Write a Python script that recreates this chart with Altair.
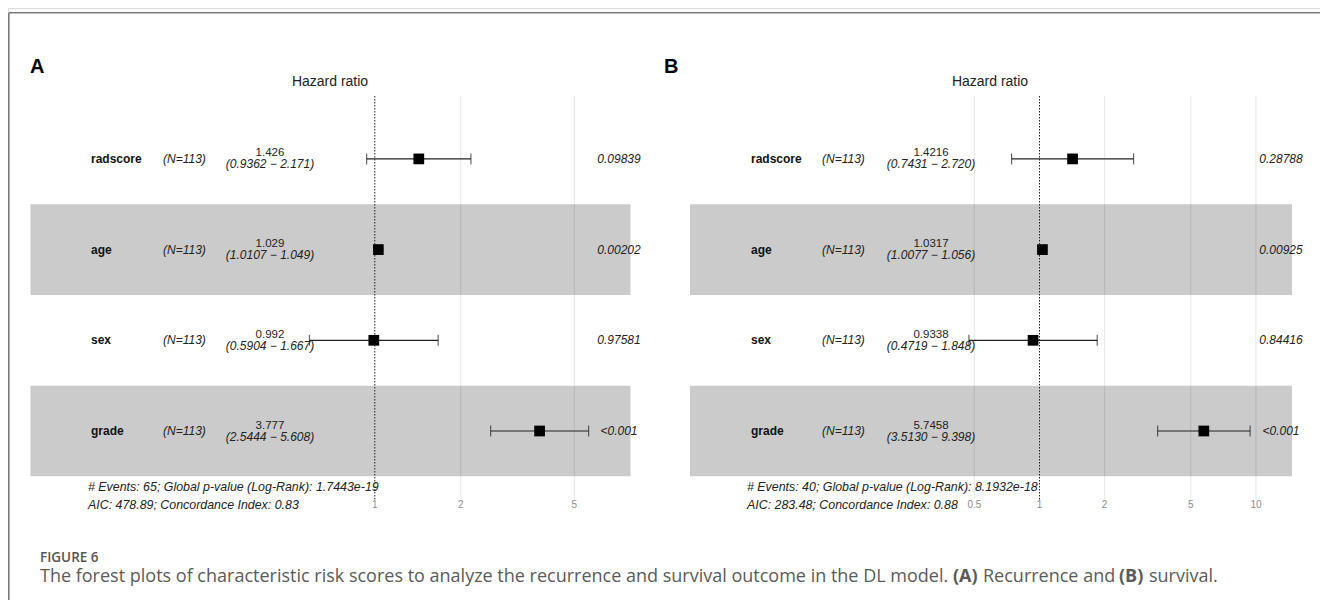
import altair as alt
import pandas as pd
import numpy as np

# ---------------- data ----------------
variables = ["radscore", "age", "sex", "grade"]
row_index = [4, 3, 2, 1]
n_labels = ["(N=113)", "(N=113)", "(N=113)", "(N=113)"]

hr_a = [1.426, 1.029, 0.992, 3.777]
lo_a = [0.9362, 1.0107, 0.5904, 2.5444]
hi_a = [2.171, 1.049, 1.667, 5.608]
est_a = ["1.426", "1.029", "0.992", "3.777"]
ci_a = ["(0.9362 − 2.171)", "(1.0107 − 1.049)", "(0.5904 − 1.667)", "(2.5444 − 5.608)"]
p_a = ["0.09839", "0.00202", "0.97581", "<0.001"]
ticks_a = [1, 2, 5]
footer_a = ["# Events: 65; Global p-value (Log-Rank): 1.7443e-19",
            "AIC: 478.89; Concordance Index: 0.83"]

hr_b = [1.4216, 1.0317, 0.9338, 5.7458]
lo_b = [0.7431, 1.0077, 0.4719, 3.5130]
hi_b = [2.720, 1.056, 1.848, 9.398]
est_b = ["1.4216", "1.0317", "0.9338", "5.7458"]
ci_b = ["(0.7431 − 2.720)", "(1.0077 − 1.056)", "(0.4719 − 1.848)", "(3.5130 − 9.398)"]
p_b = ["0.28788", "0.00925", "0.84416", "<0.001"]
ticks_b = [0.5, 1, 2, 5, 10]
footer_b = ["# Events: 40; Global p-value (Log-Rank): 8.1932e-18",
            "AIC: 283.48; Concordance Index: 0.88"]

caption_head = "FIGURE 6"
caption_parts = ["The forest plots of characteristic risk scores to analyze the recurrence and survival outcome in the DL model.",
                 "(A)", "Recurrence and", "(B)", "survival."]

# ---------------- layout helpers ----------------
OX, OY = 8, 8  # page margin
def px(v):
    return v - OX
def py(v):
    return v - OY

FONT = "Liberation Sans"
STEP = 90.7
ROW1 = 431
y_scale = alt.Scale(domain=[0, 5], range=[py(ROW1 + STEP), py(ROW1 - 4 * STEP)], nice=False, zero=False)


def hr_scale(x1, k, d0, d1):
    return alt.Scale(type="log", domain=[d0, d1],
                     range=[px(x1 + k * np.log(d0)), px(x1 + k * np.log(d1))],
                     nice=False, zero=False)


def panel(hr, lo, hi, est, ci, pv, ticks, footer, x1, k, d0, d1, cols, letter):
    df = pd.DataFrame({"var": variables, "row": row_index, "n": n_labels,
                       "hr": hr, "lo": lo, "hi": hi, "est": est, "ci": ci, "p": pv})
    xs = hr_scale(x1, k, d0, d1)
    base = alt.Chart(df)
    Y = alt.Y("row:Q", scale=y_scale, axis=None)

    band = base.transform_filter("datum.row % 2 == 1").transform_calculate(
        r0="datum.row - 0.5", r1="datum.row + 0.5"
    ).mark_rect(color="#cbcbcb").encode(
        x=alt.value(px(cols["band0"])), x2=alt.value(px(cols["band1"])),
        y=alt.Y("r0:Q", scale=y_scale, axis=None), y2="r1:Q")

    tdf = pd.DataFrame({"t": ticks})
    grid = alt.Chart(tdf).transform_filter("datum.t != 1").mark_rule(
        color="black", opacity=0.1, strokeWidth=1).encode(
        x=alt.X("t:Q", scale=xs, axis=None),
        y=alt.value(py(96)), y2=alt.value(py(499)))
    ref = alt.Chart(pd.DataFrame({"t": [1]})).mark_rule(
        color="#222222", strokeDash=[1.5, 1.5], strokeWidth=1).encode(
        x=alt.X("t:Q", scale=xs, axis=None),
        y=alt.value(py(96)), y2=alt.value(py(501)))
    ticklab = alt.Chart(tdf).mark_text(font=FONT, fontSize=10, color="#8c8c8c",
                                       baseline="middle").encode(
        x=alt.X("t:Q", scale=xs, axis=None), y=alt.value(py(505)),
        text=alt.Text("t:Q", format="~g"))

    err = base.mark_rule(color="#222222", strokeWidth=1.2).encode(
        x=alt.X("lo:Q", scale=xs, axis=None), x2="hi:Q", y=Y)
    caps = base.transform_fold(["lo", "hi"], as_=["end", "val"]).mark_tick(
        orient="vertical", size=11, thickness=1.2, color="#222222").encode(
        x=alt.X("val:Q", scale=xs, axis=None), y=Y)
    box = base.mark_square(size=115, color="black", opacity=1).encode(
        x=alt.X("hr:Q", scale=xs, axis=None), y=Y)

    name = base.mark_text(font=FONT, fontSize=12, fontWeight="bold", align="left",
                          baseline="middle", color="#111111").encode(
        x=alt.value(px(cols["name"])), y=Y, text="var:N")
    nlab = base.mark_text(font=FONT, fontSize=12, fontStyle="italic", align="left",
                          baseline="middle", color="#222222").encode(
        x=alt.value(px(cols["n"])), y=Y, text="n:N")
    estt = base.mark_text(font=FONT, fontSize=11.5, align="center", baseline="middle",
                          dy=-5.5, color="#222222").encode(
        x=alt.value(px(cols["est"])), y=Y, text="est:N")
    cit = base.mark_text(font=FONT, fontSize=12, fontStyle="italic", align="center",
                         baseline="middle", dy=5.5, color="#222222").encode(
        x=alt.value(px(cols["est"])), y=Y, text="ci:N")
    pt = base.mark_text(font=FONT, fontSize=12, fontStyle="italic", align="center",
                        baseline="middle", color="#222222").encode(
        x=alt.value(px(cols["p"])), y=Y, text="p:N")

    fdf = pd.DataFrame({"txt": footer, "yy": [py(487), py(505)]})
    foot = alt.Chart(fdf).mark_text(font=FONT, fontSize=12.4, fontStyle="italic",
                                    align="left", baseline="middle", color="#222222").encode(
        x=alt.value(px(cols["foot"])), y=alt.Y("yy:Q", scale=None), text="txt:N")

    title = alt.Chart(pd.DataFrame({"txt": ["Hazard ratio"]})).mark_text(
        font=FONT, fontSize=14, align="center", baseline="middle", color="#222222").encode(
        x=alt.value(px(cols["title"])), y=alt.value(py(82)), text="txt:N")
    let = alt.Chart(pd.DataFrame({"txt": [letter]})).mark_text(
        font=FONT, fontSize=20, fontWeight="bold", align="left", baseline="alphabetic",
        color="black").encode(
        x=alt.value(px(cols["letter"])), y=alt.value(py(73)), text="txt:N")

    return [band, grid, ref, err, caps, box, name, nlab, estt, cit, pt, foot, ticklab, title, let]


cols_a = dict(band0=30.5, band1=630.5, name=91, n=163, est=270, p=619, foot=88, title=330, letter=30)
cols_b = dict(band0=690, band1=1292, name=751, n=822, est=931, p=1281, foot=747, title=990, letter=664)

layers_a = panel(hr_a, lo_a, hi_a, est_a, ci_a, p_a, ticks_a, footer_a,
                 374.8, 124.0, 0.2, 9.0, cols_a, "A")
layers_b = panel(hr_b, lo_b, hi_b, est_b, ci_b, p_b, ticks_b, footer_b,
                 1039.5, 94.0, 0.2, 16.0, cols_b, "B")

border = alt.Chart(pd.DataFrame({"k": [0]})).mark_rule(color="#7a7a7a", strokeWidth=1.6).encode(
    x=alt.value(0.8), x2=alt.value(1312), y=alt.value(py(12.7)))
border2 = alt.Chart(pd.DataFrame({"k": [0]})).mark_rule(color="#7a7a7a", strokeWidth=1.6).encode(
    x=alt.value(0.8), y=alt.value(py(12.7)), y2=alt.value(592))

cap_head = alt.Chart(pd.DataFrame({"txt": [caption_head]})).mark_text(
    font="Open Sans", fontSize=13.5, fontWeight=600, align="left", baseline="alphabetic",
    color="#555555").encode(x=alt.value(px(40)), y=alt.value(py(561.5)), text="txt:N")

cap_x = [40, 953, 983, 1119, 1149]
cap_w = ["normal", "bold", "normal", "bold", "normal"]
cap_layers = []
for t, x, w in zip(caption_parts, cap_x, cap_w):
    cap_layers.append(alt.Chart(pd.DataFrame({"txt": [t]})).mark_text(
        font="Open Sans", fontSize=18, fontWeight=w, align="left", baseline="alphabetic",
        color="#5a5a5a").encode(x=alt.value(px(x)), y=alt.value(py(582)), text="txt:N"))

chart = alt.layer(*layers_a, *layers_b, border, border2, cap_head, *cap_layers).resolve_scale(
    x="independent").properties(
    width=1312, height=592, padding=0, autosize=alt.AutoSizeParams(type="none")
).configure_view(stroke=None).configure(background="white")

chart.save("out.html", embed_options={"renderer": "svg", "actions": False})
